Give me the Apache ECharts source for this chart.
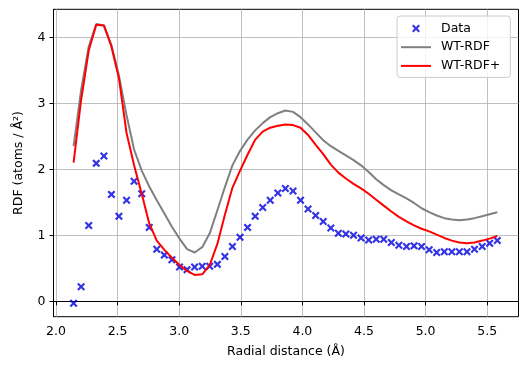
<!DOCTYPE html>
<html>
<head>
<meta charset="utf-8">
<script src="https://cdn.jsdelivr.net/npm/echarts@6/dist/echarts.min.js"></script>
<style>
html, body { margin: 0; padding: 0; background: #fff; }
#chart { width: 528px; height: 371px; }
</style>
</head>
<body>
<div id="chart"></div>
<script>
// radial distance (A)
var xValues = [2.143, 2.204, 2.266, 2.327, 2.389, 2.450, 2.511, 2.573, 2.634, 2.696,
    2.757, 2.818, 2.880, 2.941, 3.003, 3.064, 3.125, 3.187, 3.248, 3.310,
    3.371, 3.432, 3.494, 3.555, 3.617, 3.678, 3.739, 3.801, 3.862, 3.924,
    3.985, 4.046, 4.108, 4.169, 4.231, 4.292, 4.353, 4.415, 4.476, 4.538,
    4.599, 4.660, 4.722, 4.783, 4.845, 4.906, 4.967, 5.029, 5.090, 5.152,
    5.213, 5.274, 5.336, 5.397, 5.459, 5.520, 5.582];
// measured points
var dataY = [-0.03, 0.22, 1.15, 2.09, 2.20, 1.62, 1.29, 1.53, 1.82, 1.63,
    1.12, 0.79, 0.70, 0.63, 0.52, 0.48, 0.52, 0.53, 0.53, 0.56,
    0.68, 0.83, 0.97, 1.12, 1.29, 1.42, 1.53, 1.64, 1.71, 1.67,
    1.53, 1.40, 1.30, 1.21, 1.11, 1.03, 1.02, 1.00, 0.96, 0.93,
    0.94, 0.94, 0.89, 0.85, 0.83, 0.84, 0.83, 0.78, 0.74, 0.75,
    0.75, 0.75, 0.75, 0.79, 0.83, 0.88, 0.92];
// WT-RDF
var wtRdf = [2.35, 3.20, 3.86, 4.20, 4.18, 3.88, 3.42, 2.82, 2.30, 1.98,
    1.74, 1.53, 1.33, 1.13, 0.95, 0.79, 0.74, 0.82, 1.03, 1.38,
    1.73, 2.06, 2.28, 2.45, 2.59, 2.70, 2.79, 2.85, 2.89, 2.87,
    2.79, 2.68, 2.56, 2.44, 2.35, 2.28, 2.21, 2.14, 2.06, 1.96,
    1.85, 1.76, 1.68, 1.62, 1.56, 1.49, 1.41, 1.35, 1.30, 1.26,
    1.24, 1.23, 1.24, 1.26, 1.29, 1.32, 1.35];
// WT-RDF+
var wtRdfPlus = [2.10, 3.05, 3.80, 4.19, 4.18, 3.86, 3.38, 2.55, 2.06, 1.63,
    1.18, 0.92, 0.78, 0.66, 0.55, 0.46, 0.40, 0.41, 0.55, 0.87,
    1.31, 1.72, 1.98, 2.22, 2.45, 2.57, 2.63, 2.66, 2.68, 2.67,
    2.63, 2.52, 2.37, 2.23, 2.07, 1.95, 1.86, 1.78, 1.71, 1.63,
    1.54, 1.45, 1.36, 1.28, 1.21, 1.15, 1.10, 1.06, 1.01, 0.96,
    0.92, 0.89, 0.88, 0.89, 0.92, 0.95, 0.99];
var xTicks = [2.0, 2.5, 3.0, 3.5, 4.0, 4.5, 5.0, 5.5];
var yTicks = [0, 1, 2, 3, 4];

var crossIcon = 'path://M1.9,0L5,3.1L8.1,0L10,1.9L6.9,5L10,8.1L8.1,10L5,6.9L1.9,10L0,8.1L3.1,5L0,1.9Z';
var font = 'DejaVu Sans';

function pairs(ys) {
    var out = [];
    for (var i = 0; i < xValues.length; i++) {
        out.push([xValues[i], ys[i]]);
    }
    return out;
}

var myChart = echarts.init(document.getElementById('chart'));
var option = {
    animation: false,
    textStyle: { fontFamily: font },
    grid: {
        left: 53.5, right: 9.5, top: 9.3, bottom: 54.3,
        show: true, borderColor: '#000', borderWidth: 1, backgroundColor: '#fff'
    },
    legend: {
        orient: 'vertical',
        left: 397, top: 16,
        padding: [6, 10, 5, 3],
        itemWidth: 30, itemHeight: 8, itemGap: 5.7,
        backgroundColor: 'rgba(255,255,255,0.8)',
        borderColor: '#cccccc', borderWidth: 1, borderRadius: 3,
        textStyle: { fontFamily: font, fontSize: 12.5, color: '#000', padding: [0, 0, 0, 5] },
        data: [
            { name: 'Data' },
            { name: 'WT-RDF', itemStyle: { opacity: 0 } },
            { name: 'WT-RDF+', itemStyle: { opacity: 0 } }
        ]
    },
    xAxis: {
        type: 'value',
        min: 1.98, max: 5.754,
        name: 'Radial distance (Å)',
        nameLocation: 'middle', nameGap: 29,
        nameTextStyle: { fontFamily: font, fontSize: 12.5, color: '#000' },
        axisLine: { show: true, lineStyle: { color: '#000', width: 1 } },
        axisTick: { show: true, inside: false, length: 4, customValues: xTicks, lineStyle: { color: '#000' } },
        axisLabel: {
            customValues: xTicks, margin: 9, fontFamily: font, fontSize: 12.5, color: '#000',
            formatter: function (v) { return v.toFixed(1); }
        },
        splitLine: { show: true, lineStyle: { color: '#b0b0b0', width: 0.8 } }
    },
    yAxis: {
        type: 'value',
        min: -0.233, max: 4.424,
        name: 'RDF (atoms / Å²)',
        nameLocation: 'middle', nameGap: 28,
        nameTextStyle: { fontFamily: font, fontSize: 12.5, color: '#000' },
        axisLine: { show: true, lineStyle: { color: '#000', width: 1 } },
        axisTick: { show: true, inside: false, length: 4, customValues: yTicks, lineStyle: { color: '#000' } },
        axisLabel: {
            customValues: yTicks, margin: 8, fontFamily: font, fontSize: 12.5, color: '#000',
            formatter: function (v) { return String(Math.round(v)); }
        },
        splitLine: { show: true, lineStyle: { color: '#b0b0b0', width: 0.8 } }
    },
    series: [{
        name: 'Data',
        type: 'scatter',
        symbol: crossIcon,
        symbolSize: 8,
        itemStyle: { color: '#0000e0' },
        data: pairs(dataY),
        z: 3
    }, {
        name: 'WT-RDF',
        type: 'line',
        symbol: 'none',
        lineStyle: { color: '#808080', width: 2 },
        itemStyle: { color: '#808080' },
        data: pairs(wtRdf),
        z: 4
    }, {
        name: 'WT-RDF+',
        type: 'line',
        symbol: 'none',
        lineStyle: { color: '#ff0000', width: 2 },
        itemStyle: { color: '#ff0000' },
        data: pairs(wtRdfPlus),
        z: 5
    }]
};
myChart.setOption(option, true);
</script>
</body>
</html>
